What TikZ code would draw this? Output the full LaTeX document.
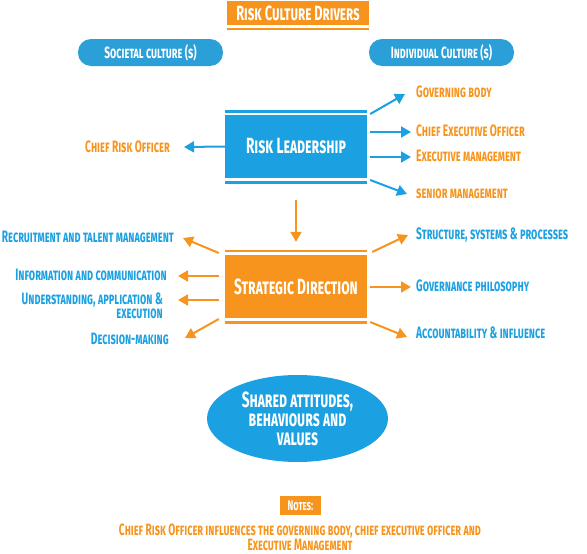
\documentclass[tikz,border=0pt]{standalone}
\usepackage{fontspec}
\setmainfont{Fira Sans}[FakeStretch=0.62]
\usetikzlibrary{arrows.meta,shapes.geometric}
\definecolor{cblue}{HTML}{1BA1E2}
\definecolor{cpill}{HTML}{2A9FD8}
\definecolor{corange}{HTML}{F7941D}
\tikzset{
  lbl/.style={font=\fontsize{16.5}{14}\selectfont\bfseries\scshape, inner sep=0pt},
  olbl/.style={lbl, text=corange},
  blbl/.style={lbl, text=cblue},
  mainbox/.style={minimum width=142pt, minimum height=63pt, inner sep=0pt,
    text=white, font=\fontsize{22}{22}\selectfont\bfseries\scshape},
  pill/.style={fill=cpill, rounded corners=13pt, minimum width=145pt, minimum height=27pt,
    text=white, inner sep=0pt, font=\fontsize{16.3}{16}\selectfont\bfseries\scshape},
  barr/.style={draw=cblue, line width=2pt, -{Triangle[length=10pt,width=11pt]}},
  oarr/.style={draw=corange, line width=2pt, -{Triangle[length=10pt,width=11pt]}},
}
\begin{document}
\begin{tikzpicture}[x=1pt,y=-1pt]
\useasboundingbox (0,0) rectangle (587,554);
% title
\node[fill=corange, minimum width=142pt, minimum height=24pt, inner sep=0pt, text=white,
  font=\fontsize{20.6}{20}\selectfont\bfseries\scshape] (title) at (298,13) {Risk Culture Drivers};
\fill[corange] ([yshift=-2.7pt]title.south west) rectangle ([yshift=-4.7pt]title.south east);
% pills
\node[pill] (soc) at (150.5,52.5) {Societal culture (s)};
\node[pill] (ind) at (441.5,52.5) {Individual Culture (s)};
% risk leadership
\node[mainbox, fill=cblue] (RL) at (296,146.5) {Risk Leadership};
\fill[cblue] ([yshift=2pt]RL.north west) rectangle ([yshift=4.5pt]RL.north east);
\fill[cblue] ([yshift=-3pt]RL.south west) rectangle ([yshift=-5.5pt]RL.south east);
% strategic direction
\node[mainbox, fill=corange] (SD) at (296,286.5) {Strategic Direction};
\fill[corange] ([yshift=2.5pt]SD.north west) rectangle ([yshift=5pt]SD.north east);
\fill[corange] ([yshift=-3pt]SD.south west) rectangle ([yshift=-5.5pt]SD.south east);
% RL labels
\node[olbl, anchor=west] (gb) at (416,92) {Governing body};
\node[olbl, anchor=west] (ceo) at (416,131) {Chief Executive Officer};
\node[olbl, anchor=west] (em) at (416,156) {Executive management};
\node[olbl, anchor=west] (sm) at (416,194) {senior management};
\node[olbl, anchor=east] (cro) at (170,147) {Chief Risk Officer};
\draw[barr] ([shift={(3,-32.5)}]RL.east) -- ([shift={(-11,2)}]gb.west);
\draw[barr] ([shift={(3,-14.5)}]RL.east) -- ([shift={(-5,1)}]ceo.west);
\draw[barr] ([shift={(3,10.5)}]RL.east) -- ([shift={(-5,1)}]em.west);
\draw[barr] ([shift={(3,33.5)}]RL.east) -- ([shift={(-9,0)}]sm.west);
\draw[barr] (RL.west) -- ([shift={(14,0)}]cro.east);
% down arrow
\draw[oarr] ([shift={(0,22)}]RL.south) -- ([shift={(0,-13)}]SD.north);
% SD labels
\node[blbl, anchor=east] (rec) at (174,237) {Recruitment and talent management};
\node[blbl, anchor=east] (info) at (167,275) {Information and communication};
\node[blbl, anchor=east, align=right] (und) at (163,306) {Understanding, application \&\\execution};
\node[blbl, anchor=east] (dm) at (169,339) {Decision-making};
\node[blbl, anchor=west] (ssp) at (416,235) {Structure, systems \& processes};
\node[blbl, anchor=west] (gp) at (416,286) {Governance philosophy};
\node[blbl, anchor=west] (acc) at (416,333) {Accountability \& influence};
\draw[oarr] ([shift={(-6,-33.5)}]SD.west) -- ([shift={(9,1)}]rec.east);
\draw[oarr] ([shift={(-6,-10.5)}]SD.west) -- ([shift={(11,1)}]info.east);
\draw[oarr] ([shift={(-6,13.5)}]SD.west) -- ([shift={(15,-6)}]und.east);
\draw[oarr] ([shift={(-6,32.5)}]SD.west) -- ([shift={(16,-1)}]dm.east);
\draw[oarr] ([shift={(5,-34.5)}]SD.east) -- ([shift={(-8,0)}]ssp.west);
\draw[oarr] ([shift={(3,0.5)}]SD.east) -- ([shift={(-5,1)}]gp.west);
\draw[oarr] ([shift={(3,35.5)}]SD.east) -- ([shift={(-9,4)}]acc.west);
% ellipse
\node[ellipse, fill=cblue, minimum width=181pt, minimum height=87pt, inner sep=0pt, text=white,
  align=center, font=\fontsize{22}{19}\selectfont\bfseries\scshape] (sh) at (297.5,418.5)
  {Shared attitudes,\\behaviours and\\values};
% notes
\node[fill=corange, minimum width=41pt, minimum height=19pt, inner sep=0pt, text=white,
  font=\fontsize{14}{14}\selectfont\bfseries\scshape] (notes) at (300.5,505.5) {Notes:};
\node[olbl, align=center, font=\fontsize{16.4}{13}\selectfont\bfseries\scshape] (nt) at (300,537.5)
  {Chief Risk Officer influences the governing body, chief executive officer and\\Executive Management};
\end{tikzpicture}
\end{document}
